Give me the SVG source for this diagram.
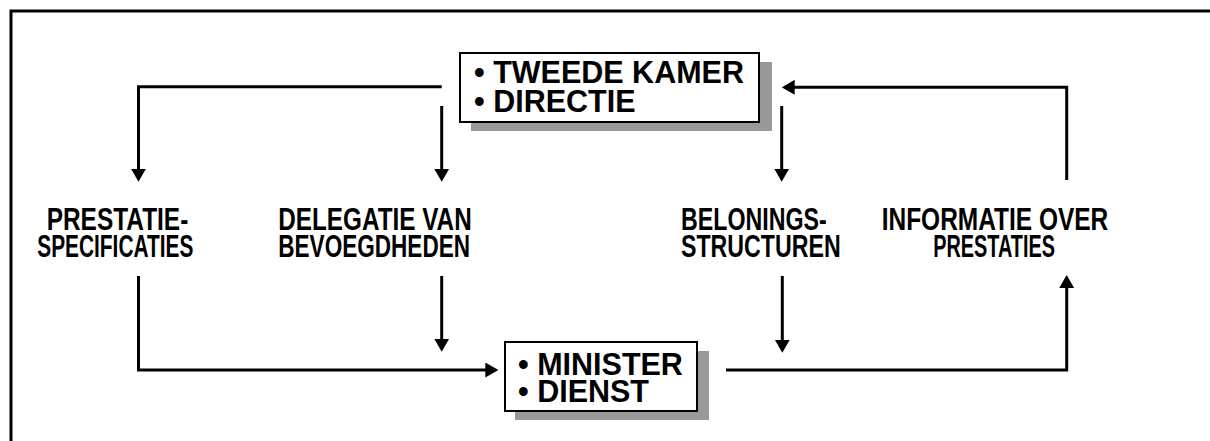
<svg xmlns="http://www.w3.org/2000/svg" width="1210" height="441" viewBox="0 0 1210 441">
<style>
.frame{fill:none;stroke:#000;stroke-width:3}
.con{fill:none;stroke:#000;stroke-width:3}
.box{fill:#fff;stroke:#000;stroke-width:2}
.shadow{fill:#999}
.bt{font-family:"Liberation Sans",Arial,sans-serif;font-weight:bold;font-size:30.5px;fill:#000}
.lb{font-family:"Liberation Sans",Arial,sans-serif;font-weight:bold;font-size:30.5px;fill:#000}
</style>
<defs>
<marker id="ah" viewBox="0 0 13 15" refX="7" refY="7.5" markerWidth="13" markerHeight="15" markerUnits="userSpaceOnUse" orient="auto">
<path d="M0,0 L13,7.5 L0,15 Z" fill="#000"/>
</marker>
</defs>
<rect width="1210" height="441" fill="#fff"/>
<path class="frame" d="M11,441 V11 H1212"/>
<g id="connectors">
<path class="con" d="M441.7,86.7 H138.5 V175.7" marker-end="url(#ah)"/>
<path class="con" d="M441.7,106 V175.7" marker-end="url(#ah)"/>
<path class="con" d="M1066.7,180 V87.3 H787.7" marker-end="url(#ah)"/>
<path class="con" d="M781.7,106 V175.7" marker-end="url(#ah)"/>
<path class="con" d="M138.5,276 V370 H492.3" marker-end="url(#ah)"/>
<path class="con" d="M441.7,276 V345.7" marker-end="url(#ah)"/>
<path class="con" d="M782.3,276 V346.7" marker-end="url(#ah)"/>
<path class="con" d="M726,370 H1066.7 V281" marker-end="url(#ah)"/>
</g>
<g id="node-tweede-kamer">
<rect class="shadow" x="471" y="62" width="301" height="69"/>
<rect class="box" x="460" y="53" width="299" height="69"/>
<text class="bt" x="474" y="83.3">• TWEEDE KAMER</text>
<text class="bt" x="474" y="111.5">• DIRECTIE</text>
</g>
<g id="node-minister">
<rect class="shadow" x="515" y="351" width="194" height="69"/>
<rect class="box" x="505" y="342" width="192" height="69"/>
<text class="bt" x="518" y="375">• MINISTER</text>
<text class="bt" x="518" y="401.7">• DIENST</text>
</g>
<g id="label-prestatiespecificaties">
<text class="lb" x="46.7" y="230" textLength="141.6" lengthAdjust="spacingAndGlyphs">PRESTATIE-</text>
<text class="lb" x="37.3" y="257" textLength="156" lengthAdjust="spacingAndGlyphs">SPECIFICATIES</text>
</g>
<g id="label-delegatie">
<text class="lb" x="278.3" y="229.5" textLength="193.4" lengthAdjust="spacingAndGlyphs">DELEGATIE VAN</text>
<text class="lb" x="278.3" y="257" textLength="191.7" lengthAdjust="spacingAndGlyphs">BEVOEGDHEDEN</text>
</g>
<g id="label-beloningsstructuren">
<text class="lb" x="681" y="230" textLength="145.7" lengthAdjust="spacingAndGlyphs">BELONINGS-</text>
<text class="lb" x="681" y="257" textLength="159.7" lengthAdjust="spacingAndGlyphs">STRUCTUREN</text>
</g>
<g id="label-informatie">
<text class="lb" x="881.7" y="230" textLength="226.6" lengthAdjust="spacingAndGlyphs">INFORMATIE OVER</text>
<text class="lb" x="933.3" y="257" textLength="121.7" lengthAdjust="spacingAndGlyphs">PRESTATIES</text>
</g>
</svg>
